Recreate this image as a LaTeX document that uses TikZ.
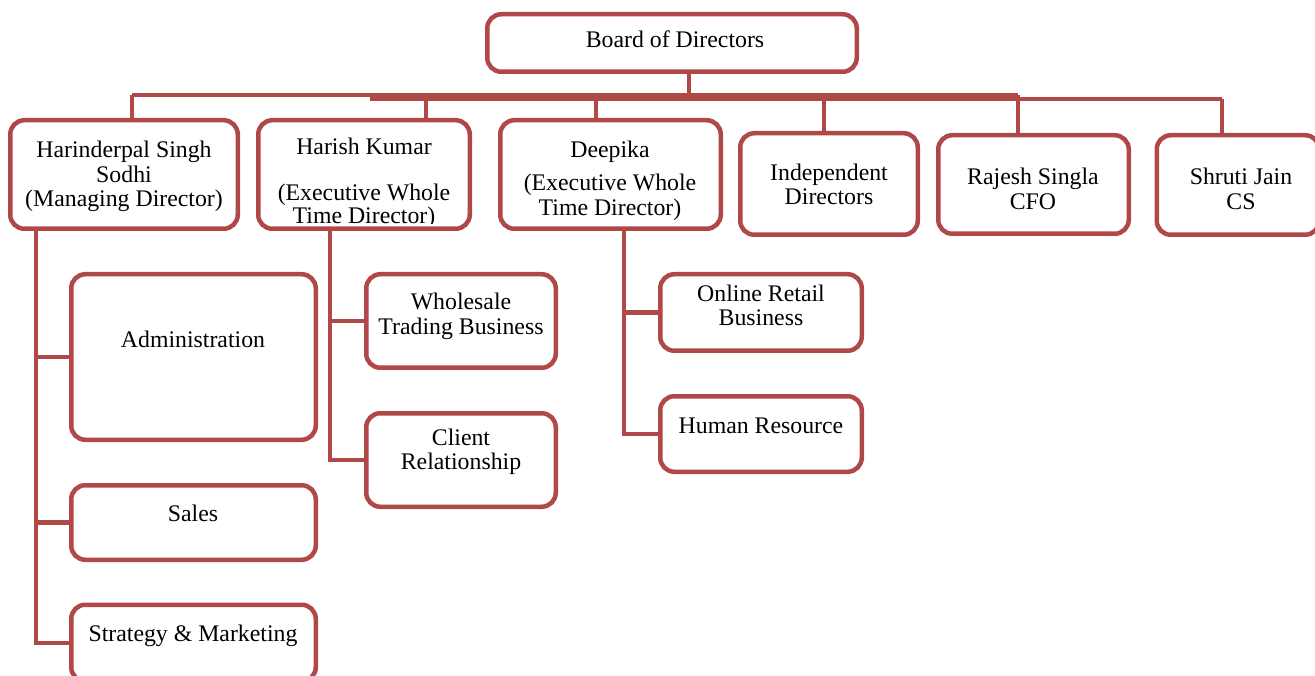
\documentclass[tikz,border=0pt]{standalone}
\usepackage{fontspec}
\setmainfont{Liberation Serif}
\definecolor{boxred}{RGB}{176,72,72}
\begin{document}
\begin{tikzpicture}[x=1pt,y=-1pt,
  box/.style={draw=boxred, line width=4.5pt, rounded corners=14pt, fill=white, inner sep=0pt},
  conn/.style={draw=boxred, line width=4.5pt},
  lbl/.style={align=center, inner sep=0pt, font=\fontsize{23.8}{24.5}\selectfont, text=black}]
\clip (0,0) rectangle (1315,676);
\fill[white] (0,0) rectangle (1315,676);
% boxes (shapes)
\node[box, minimum width=365pt, minimum height=53pt] (board) at (672,43) {};
\node[box, minimum width=223pt, minimum height=104pt] (hs) at (124,174.5) {};
\node[box, minimum width=207pt, minimum height=104pt] (hk) at (364,174.5) {};
\node[box, minimum width=216pt, minimum height=104pt] (dp) at (610.5,174.5) {};
\node[box, minimum width=173pt, minimum height=97pt] (ind) at (829,184) {};
\node[box, minimum width=186pt, minimum height=94pt] (rs) at (1033.5,184.5) {};
\node[box, minimum width=158pt, minimum height=95pt] (sj) at (1238,185) {};
\node[box, minimum width=240pt, minimum height=161pt] (adm) at (193.5,357) {};
\node[box, minimum width=240pt, minimum height=70pt] (sales) at (193.5,522.5) {};
\node[box, minimum width=240pt, minimum height=72pt] (strat) at (193.5,643) {};
\node[box, minimum width=185pt, minimum height=89pt] (whole) at (461,321) {};
\node[box, minimum width=185pt, minimum height=89pt] (client) at (461,460) {};
\node[box, minimum width=197pt, minimum height=72pt] (online) at (761,312.5) {};
\node[box, minimum width=197pt, minimum height=71pt] (hr) at (761,434) {};
% junction coordinates
\coordinate (j0) at (689,95);
\coordinate (jl) at (132,95);
\coordinate (jr) at (1018,95);
\coordinate (k1) at (370,99);
\coordinate (k2) at (1222,99);
\coordinate (jhk) at (426,95);
\coordinate (jdp) at (596,95);
\coordinate (jind) at (824,95);
\coordinate (a1) at (36,0);
\coordinate (b1) at (330,0);
\coordinate (c1) at (624,0);
% connectors
\draw[conn] (board.south -| j0) -- (j0);
\draw[conn] (jl) -- (jr);
\draw[conn] (k1) -- (k2);
\draw[conn] (jl) -- (hs.north -| jl);
\draw[conn] (jhk) -- (hk.north -| jhk);
\draw[conn] (jdp) -- (dp.north -| jdp);
\draw[conn] (jind) -- (ind.north -| jind);
\draw[conn] (jr) -- (rs.north -| jr);
\draw[conn] (k2) -- (sj.north -| k2);
\draw[conn] (a1 |- hs.south) |- (strat.west);
\draw[conn] (a1 |- adm.west) -- (adm.west);
\draw[conn] (a1 |- sales.west) -- (sales.west);
\draw[conn] (b1 |- hk.south) |- (client.west);
\draw[conn] (b1 |- whole.west) -- (whole.west);
\draw[conn] (c1 |- dp.south) |- (hr.west);
\draw[conn] (c1 |- online.west) -- (online.west);
% boxes drawn again on top of the connectors
\foreach \n in {board,hs,hk,dp,ind,rs,sj,adm,sales,strat,whole,client,online,hr}{
  \draw[box] (\n.north west) rectangle (\n.south east);
}
% texts
\node[lbl] (tboard) at (675,39) {Board of Directors};
\node[lbl] (ths) at (124,176.5) {Harinderpal Singh\\Sodhi\\(Managing Director)};
\begin{scope}
\clip (hk.north west) rectangle ([yshift=5pt]hk.south east);
\node[lbl, font=\fontsize{23.8}{23}\selectfont] (thk) at (364,183.5) {Harish Kumar\\ \\(Executive Whole\\Time Director)};
\end{scope}
\node[lbl] (tdp) at (610,181) {Deepika\\[8.5pt](Executive Whole\\Time Director)};
\node[lbl] (tind) at (829,184.5) {Independent\\Directors};
\node[lbl] (trs) at (1033,189) {Rajesh Singla\\CFO};
\node[lbl] (tsj) at (1241,189) {Shruti Jain\\CS};
\node[lbl] (tadm) at (193,339.5) {Administration};
\node[lbl] (tsales) at (193,513.5) {Sales};
\node[lbl] (tstrat) at (193,635.5) {Strategy \& Marketing};
\node[lbl] (twhole) at (461,316.5) {Wholesale\\Trading Business};
\node[lbl] (tclient) at (461,452) {Client\\Relationship};
\node[lbl] (tonline) at (761,305.5) {Online Retail\\Business};
\node[lbl] (thr) at (761,425.5) {Human Resource};
\end{tikzpicture}
\end{document}
